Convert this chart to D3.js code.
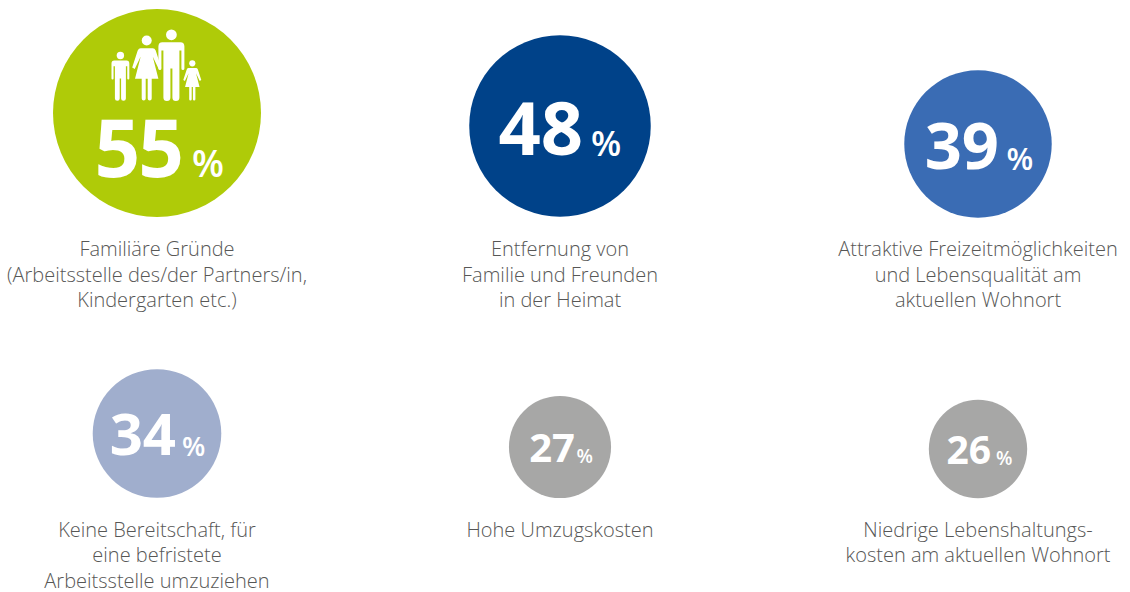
<!DOCTYPE html>
<html>
<head>
<meta charset="utf-8">
<script src="https://cdn.jsdelivr.net/npm/d3@7"></script>
<style>
  html, body { margin: 0; padding: 0; background: #fff; }
  text { font-family: "Open Sans", sans-serif; }
</style>
</head>
<body>
<div id="svg"></div>
<script>
/* Data. */
const values = [55, 48, 39, 34, 27, 26]
const colors = ["#afcb08", "#004289", "#3a6cb4", "#a0aecd", "#a7a7a6", "#a7a7a6"]
const labels = [
  ["Familiäre Gründe", "(Arbeitsstelle des/der Partners/in,", "Kindergarten etc.)"],
  ["Entfernung von", "Familie und Freunden", "in der Heimat"],
  ["Attraktive Freizeitmöglichkeiten", "und Lebensqualität am", "aktuellen Wohnort"],
  ["Keine Bereitschaft, für", "eine befristete", "Arbeitsstelle umzuziehen"],
  ["Hohe Umzugskosten"],
  ["Niedrige Lebenshaltungs-", "kosten am aktuellen Wohnort"]
]
const columns = [0, 1, 2, 0, 1, 2]

/* Layout, measured on the picture. */
const centerY = [113, 126, 144, 433.5, 447, 449]
const labelY = [256, 256, 256, 536.7, 536.7, 536.7]
const baseline = [176.5, 155, 169, 455, 462, 464]
const numberSize = [80, 74, 65, 58, 40, 39]
const percentSize = [37, 35, 31, 27, 19, 19]
const numberEnd = [25, 23, 21, 19, 15, 13]
const percentStart = [35, 31, 28.5, 25, 16.5, 18]

/* Define svg-size. */
const width = 1130
const height = 592

/* Create svg-element. */
const svg = d3.select("#svg")
  .append("svg")
  .attr("width", width)
  .attr("height", height)
  .style("display", "block")

/* Circle radius grows linearly with the value. */
const radius = d3.scaleLinear().domain([0, 55]).range([0, 104])
const x = d3.scaleOrdinal().domain([0, 1, 2]).range([157, 560, 978])

const g = svg.selectAll("g.item")
  .data(values)
  .enter()
  .append("g")
  .attr("class", "item")

g.append("circle")
  .attr("cx", (d, i) => x(columns[i]))
  .attr("cy", (d, i) => centerY[i])
  .attr("r", d => radius(d))
  .attr("fill", (d, i) => colors[i])

/* Number and percent sign. */
g.append("text")
  .attr("x", (d, i) => x(columns[i]) + numberEnd[i])
  .attr("y", (d, i) => baseline[i])
  .attr("text-anchor", "end")
  .attr("fill", "#fff")
  .attr("font-weight", 700)
  .attr("font-size", (d, i) => numberSize[i])
  .attr("letter-spacing", (d, i) => i == 0 ? -2 : 0)
  .text(d => d)

g.append("text")
  .attr("x", (d, i) => x(columns[i]) + percentStart[i])
  .attr("y", (d, i) => baseline[i] + 0.5)
  .attr("fill", "#fff")
  .attr("font-weight", 600)
  .attr("font-size", (d, i) => percentSize[i])
  .text("%")

/* Captions. */
g.each(function (d, i) {
  d3.select(this).selectAll("text.label")
    .data(labels[i])
    .enter()
    .append("text")
    .attr("class", "label")
    .attr("x", x(columns[i]))
    .attr("y", (s, j) => labelY[i] + j * 25.6)
    .attr("text-anchor", "middle")
    .attr("font-size", 20)
    .attr("font-weight", 300)
    .attr("fill", "#575756")
    .text(s => s)
})

/* Family pictogram, drawn as plain white shapes with the feet at y = 0. */
const malePath = "M-9,-58.3 H9 Q13,-58.3 13,-54 V-32 A1.5,1.5 0 0 1 10,-32 V-50 H8 V-3 A3.5,3.5 0 0 1 1,-3 V-32 H-1 V-3 A3.5,3.5 0 0 1 -8,-3 V-50 H-10 V-32 A1.5,1.5 0 0 1 -13,-32 V-54 Q-13,-58.3 -9,-58.3 Z"
const femalePath = "M-6,-52.3 H6 Q8,-52.3 9,-50 L14.5,-33 L12,-31.5 L6,-44 L11.7,-21.7 H5 V-2 A2,2 0 0 1 1,-2 V-21.7 H-1 V-2 A2,2 0 0 1 -5,-2 V-21.7 H-11.7 L-6,-44 L-12,-31.5 L-14.5,-33 L-9,-50 Q-8,-52.3 -6,-52.3 Z"

const drawPerson = (cx, s, shape, headY, headR) => {
  const p = svg.append("g")
    .attr("fill", "#fff")
    .attr("transform", `translate(${cx},100.5) scale(${s})`)
  p.append("circle").attr("cy", headY).attr("r", headR)
  p.append("path").attr("d", shape)
}

drawPerson(146.7, 1, femalePath, -60, 5)
drawPerson(171.4, 1, malePath, -65.7, 5.4)
drawPerson(120.4, 0.686, malePath, -65.7, 5.4)
drawPerson(192.3, 0.62, femalePath, -60, 5)
</script>
</body>
</html>
